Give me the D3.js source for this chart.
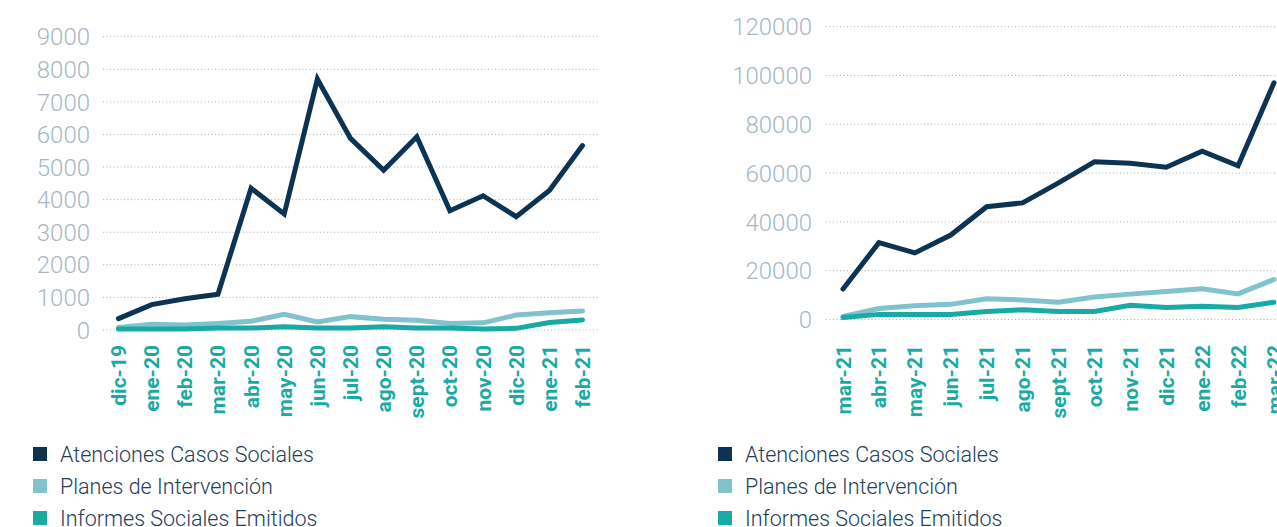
<!DOCTYPE html>
<html>
<head>
<meta charset="utf-8">
<script src="https://cdn.jsdelivr.net/npm/d3@7"></script>
<style>
  html, body { margin: 0; padding: 0; background: #fff; }
  svg { display: block; }
</style>
</head>
<body>
<svg id="chart" width="1277" height="527"></svg>
<script>
// ---------- DATA ----------
const seriesNames = ["Atenciones Casos Sociales", "Planes de Intervención", "Informes Sociales Emitidos"];
const seriesColors = ["#0c3352", "#80c3cc", "#1aaaa5"];

// Left chart
const leftCategories = ["dic-19","ene-20","feb-20","mar-20","abr-20","may-20","jun-20","jul-20","ago-20","sept-20","oct-20","nov-20","dic-20","ene-21","feb-21"];
const leftAtenciones = [350, 780, 960, 1100, 4350, 3560, 7700, 5880, 4900, 5930, 3660, 4120, 3480, 4280, 5660];
const leftPlanes     = [80, 180, 150, 200, 270, 480, 250, 410, 330, 300, 200, 220, 460, 530, 580];
const leftInformes   = [30, 30, 30, 60, 60, 100, 60, 60, 100, 60, 60, 30, 50, 230, 310];
const leftTicks = [0, 1000, 2000, 3000, 4000, 5000, 6000, 7000, 8000, 9000];

// Right chart
const rightCategories = ["mar-21","abr-21","may-21","jun-21","jul-21","ago-21","sept-21","oct-21","nov-21","dic-21","ene-22","feb-22","mar-22"];
const rightAtenciones = [12500, 31500, 27300, 34600, 46200, 47800, 56000, 64600, 64000, 62400, 69000, 63000, 97000];
const rightPlanes     = [1300, 4500, 5600, 6200, 8500, 8000, 7100, 9200, 10400, 11500, 12600, 10500, 16400];
const rightInformes   = [800, 2100, 2100, 2100, 3300, 4000, 3300, 3300, 5800, 4900, 5400, 4900, 7100];
const rightTicks = [0, 20000, 40000, 60000, 80000, 100000, 120000];

// ---------- DRAW ----------
const svg = d3.select("#chart");

function drawChart(cfg) {
  const g = svg.append("g");
  const x = d3.scalePoint().domain(cfg.categories).range(cfg.xRange);
  const y = d3.scaleLinear().domain([0, cfg.yMax]).range(cfg.yRange);

  // gridlines
  g.selectAll("line.grid").data(cfg.ticks).join("line")
    .attr("x1", cfg.gridX[0]).attr("x2", cfg.gridX[1])
    .attr("y1", d => y(d)).attr("y2", d => y(d))
    .attr("stroke", "#9fb3c3").attr("stroke-width", 1)
    .attr("stroke-dasharray", "1,2.5");

  // y tick labels
  g.selectAll("text.ytick").data(cfg.ticks).join("text")
    .attr("x", cfg.labelX).attr("y", d => y(d))
    .attr("dy", "0.36em")
    .attr("text-anchor", "end")
    .attr("font-family", "Roboto")
    .attr("font-weight", 300)
    .attr("font-size", 24)
    .attr("fill", "#a7b8c4")
    .text(d => d);

  // x labels
  g.selectAll("text.xtick").data(cfg.categories).join("text")
    .attr("transform", d => `translate(${x(d)},${cfg.xLabelY}) rotate(-90)`)
    .attr("dy", "0.36em")
    .attr("text-anchor", "end")
    .attr("font-family", "Roboto")
    .attr("font-weight", 700)
    .attr("font-size", 21)
    .attr("fill", "#1aaaa5")
    .text(d => d);

  const line = d3.line().x((d, i) => x(cfg.categories[i])).y(d => y(d));
  const order = [1, 2, 0];
  order.forEach(si => {
    g.append("path")
      .datum(cfg.series[si])
      .attr("d", line)
      .attr("fill", "none")
      .attr("stroke", seriesColors[si])
      .attr("stroke-width", 5)
      .attr("stroke-linecap", "round")
      .attr("stroke-linejoin", "miter");
  });

  // legend
  const lg = g.append("g");
  seriesNames.forEach((name, i) => {
    const cy = cfg.legendY + i * 32;
    lg.append("rect")
      .attr("x", cfg.legendX).attr("y", cy - 7)
      .attr("width", 14).attr("height", 14)
      .attr("fill", seriesColors[i]);
    lg.append("text")
      .attr("x", cfg.legendX + 27).attr("y", cy)
      .attr("dy", "0.36em")
      .attr("font-family", "Roboto")
      .attr("font-weight", 300)
      .attr("font-size", 21.5)
      .attr("fill", "#22405a")
      .text(name);
  });
}

drawChart({
  categories: leftCategories,
  series: [leftAtenciones, leftPlanes, leftInformes],
  ticks: leftTicks,
  yMax: 9000,
  xRange: [118.5, 582.5],
  yRange: [330, 36.7],
  gridX: [103, 600],
  labelX: 90,
  xLabelY: 345,
  legendX: 33,
  legendY: 454
});

drawChart({
  categories: rightCategories,
  series: [rightAtenciones, rightPlanes, rightInformes],
  ticks: rightTicks,
  yMax: 120000,
  xRange: [843, 1274],
  yRange: [319.5, 26.7],
  gridX: [826, 1277],
  labelX: 812,
  xLabelY: 345,
  legendX: 718,
  legendY: 454
});
</script>
</body>
</html>
